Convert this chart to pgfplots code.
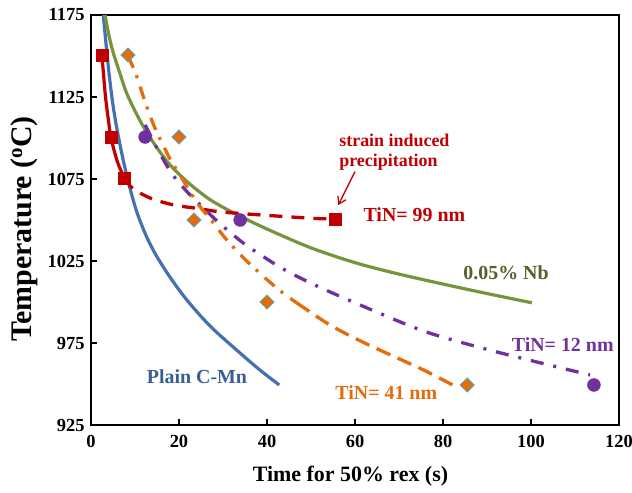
\documentclass[border=0pt]{standalone}
\usepackage{fontspec}
\setmainfont{Liberation Serif}
\usepackage{pgfplots}
\pgfplotsset{compat=1.18}
\usetikzlibrary{arrows.meta}

\definecolor{cmnblue}{RGB}{68,114,176}
\definecolor{cmnlab}{RGB}{55,96,146}
\definecolor{nbgreen}{RGB}{119,147,60}
\definecolor{nblab}{RGB}{79,98,40}
\definecolor{tinred}{RGB}{192,0,0}
\definecolor{tinpurple}{RGB}{112,48,160}
\definecolor{tinorange}{RGB}{228,108,10}
\definecolor{edgeblue}{RGB}{75,172,198}

\begin{document}
\begin{tikzpicture}
\begin{axis}[
    scale only axis,
    width=528bp, height=410bp,
    xmin=0, xmax=120, ymin=925, ymax=1175,
    xtick={0,20,40,60,80,100,120},
    xticklabels={\textbf{0},\textbf{20},\textbf{40},\textbf{60},\textbf{80},\textbf{100},\textbf{120}},
    ytick={925,975,1025,1075,1125,1175},
    yticklabels={\textbf{925},\textbf{975},\textbf{1025},\textbf{1075},\textbf{1125},\textbf{1175}},
    axis line style={line width=1.6bp},
    tick style={black, line width=1.2bp},
    major tick length=6bp,
    tick align=inside,
    xtick pos=bottom, ytick pos=left,
    every tick label/.append style={font=\bfseries\fontsize{18.5}{21}\selectfont},
    xticklabel shift=7bp,
    yticklabel shift=3bp,
    xlabel={Time for 50\% rex (s)},
    ylabel={Temperature (\textsuperscript{o}C)},
    xlabel style={font=\bfseries\fontsize{22}{26}\selectfont,
        at={(axis description cs:0.4915,-0.139)}, anchor=base},
    ylabel style={font=\bfseries\fontsize{30}{34}\selectfont,
        at={(axis description cs:-0.1136,0.478)}, anchor=base},
    every axis plot/.append style={line cap=butt},
]
% Plain C-Mn
\addplot[cmnblue, line width=3.2bp, smooth] coordinates {
    (2.8,1175) (3.5,1155) (4.2,1137) (5.0,1120) (6.0,1104) (7.2,1088)
    (8.6,1072) (10.4,1055) (12.6,1040) (14.9,1028) (18,1015) (21.7,1001.5)
    (27,985.5) (33.1,970.7) (38.4,958.5) (42.8,949.4)
};
% 0.05% Nb
\addplot[nbgreen, line width=3.2bp, smooth] coordinates {
    (3.2,1175) (4,1163.5) (5,1152.5) (6.5,1140) (8,1128) (10,1116.5)
    (12,1106.5) (15,1094) (18,1083.5) (22,1073) (27,1062.5) (33,1053.5)
    (40,1044.5) (50,1033) (60,1024) (70,1017) (85,1008) (100.2,999.5)
};
% TiN = 99 nm
\addplot[tinred, line width=3.2bp, smooth] coordinates {
    (2.5,1150) (2.9,1137) (3.3,1125) (3.9,1112) (4.5,1100.6) (5.3,1092)
    (6.2,1084) (7.6,1075.4)
};
\addplot[tinred, line width=3.3bp, smooth, dash pattern=on 13bp off 9bp] coordinates {
    (7.6,1075.4) (9.6,1069) (13.8,1063) (19.1,1059) (24.4,1057) (29.3,1055)
    (39,1053) (50.5,1051) (55.5,1050.6)
};
% TiN = 12 nm
\addplot[tinpurple, line width=3.3bp, smooth, dash pattern=on 13bp off 10bp on 3bp off 10bp] coordinates {
    (12.3,1108) (15.3,1092.3) (18.3,1078.6) (21.4,1068.5) (23.6,1062.5)
    (28.6,1049.5) (34.2,1036.8) (39.2,1027.6) (44.1,1019.5) (51.7,1009.3)
    (65.7,993) (77,981) (92.3,969.5) (113.4,955.5)
};
% TiN = 41 nm
\addplot[tinorange, line width=3.3bp, smooth, dash pattern=on 13bp off 8bp on 3bp off 9bp] coordinates {
    (8.4,1150) (10.2,1139) (12.3,1122) (14,1109.5) (15.3,1101.5) (16.7,1094)
    (18,1087) (21,1074) (22.9,1065.5) (25.1,1057) (27,1051) (30.5,1039)
    (34.8,1026.5) (38.4,1017.5) (40.7,1012) (43.7,1005.3) (46.8,999.4)
};
\addplot[tinorange, line width=3.3bp, smooth, dash pattern=on 15bp off 8bp] coordinates {
    (46.8,999.4) (54.3,986) (61.8,975.5) (69.5,966) (76,958) (83.2,948)
};
% measured points
\addplot[only marks, mark=square*, mark size=6bp, mark options={fill=tinred, draw=tinred}]
    coordinates {(2.5,1150.6) (4.5,1100.6) (7.6,1075.4) (55.5,1050.6)};
\addplot[only marks, mark=*, mark size=6.5bp, mark options={fill=tinpurple, draw=tinpurple}]
    coordinates {(12.3,1100.6) (33.9,1050) (114.3,949.4)};
\addplot[only marks, mark=square*, mark size=5bp,
    mark options={rotate=45, fill=tinorange, draw=edgeblue, line width=0.8bp}]
    coordinates {(8.4,1150.6) (20,1100.6) (23.4,1050) (40,1000) (85.5,949.4)};

% labels
\begin{scope}[font=\bfseries\fontsize{20}{24}\selectfont, inner sep=0pt, anchor=base west]
\node[tinred] at (axis cs:61.9,1049) {TiN= 99 nm};
\node[nblab] at (axis cs:84.6,1013.8) {0.05\% Nb};
\node[tinpurple] at (axis cs:95.6,969.7) {TiN= 12 nm};
\node[cmnlab] at (axis cs:12.65,950.4) {Plain C-Mn};
\node[tinorange] at (axis cs:55.5,940.7) {TiN= 41 nm};
\end{scope}
\begin{scope}[font=\bfseries\fontsize{18}{22}\selectfont, inner sep=0pt, anchor=base west, tinred]
\node at (axis cs:56.4,1095.1) {strain induced};
\node at (axis cs:56.4,1082.5) {precipitation};
\end{scope}
\draw[tinred, line width=1.3bp, -{Straight Barb[length=7bp, width=9bp]}]
    (axis cs:60,1079.5) -- (axis cs:56.2,1059.1);
\end{axis}
\pgfresetboundingbox
\path[use as bounding box] ([shift={(-91bp,-68bp)}]current axis.south west)
    rectangle ([shift={(13bp,15bp)}]current axis.north east);
\end{tikzpicture}
\end{document}
